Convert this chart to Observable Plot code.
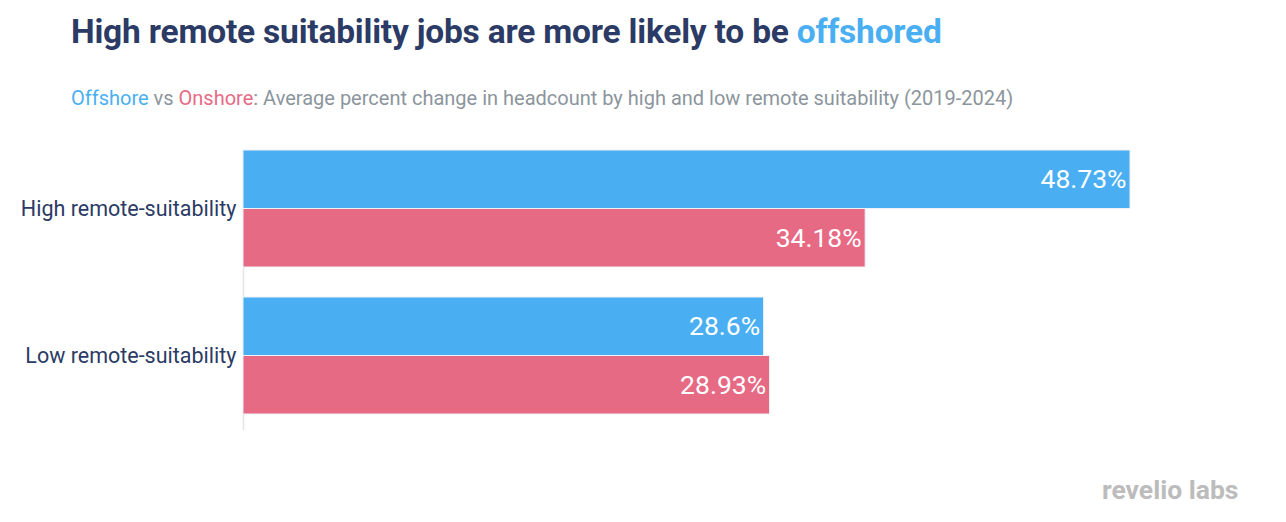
<!DOCTYPE html>
<html>
<head>
<meta charset="utf-8">
<script src="https://cdn.jsdelivr.net/npm/d3@7"></script>
<script src="https://cdn.jsdelivr.net/npm/@observablehq/plot@0.6"></script>
<style>
  body { margin: 0; background: #fff; font-family: Roboto, "Noto Sans", sans-serif; width: 1286px; height: 522px; position: relative; overflow: hidden; }
  #title { position: absolute; left: 71px; top: 12px; font-size: 33.5px; line-height: 40px; font-weight: 700; color: #2b3b65; letter-spacing: -0.2px; }
  #title span { color: #4aaff2; }
  #subtitle { position: absolute; left: 71px; top: 86px; font-size: 20px; line-height: 24px; color: #8c959d; }
  #subtitle .off { color: #4aaff2; }
  #subtitle .on { color: #e76a85; }
  #chart { position: absolute; left: 0; top: 140px; }
  #logo { position: absolute; left: 1102px; top: 474px; font-size: 26.5px; line-height: 32px; font-weight: 700; color: #bcbcbc; letter-spacing: 0px; }
</style>
</head>
<body>
<div id="title">High remote suitability jobs are more likely to be <span>offshored</span></div>
<div id="subtitle"><span class="off">Offshore</span> vs <span class="on">Onshore</span>: Average percent change in headcount by high and low remote suitability (2019-2024)</div>
<div id="chart"></div>
<div id="logo">revelio labs</div>
<script>
const groups = ["High remote-suitability", "Low remote-suitability"];
const series = ["Offshore", "Onshore"];
const offshore = [48.73, 28.6];
const onshore = [34.18, 28.93];
const colors = ["#4aaff2", "#e76a85"];

const data = [];
groups.forEach((g, i) => {
  data.push({group: g, series: "Offshore", value: offshore[i]});
  data.push({group: g, series: "Onshore", value: onshore[i]});
});

const half = 58.5;
const off = data.filter(d => d.series === "Offshore");
const on = data.filter(d => d.series === "Onshore");

const chart = Plot.plot({
  width: 1286,
  height: 300,
  marginTop: 10,
  marginBottom: 26,
  marginLeft: 243,
  marginRight: 156,
  style: {fontFamily: "Roboto, sans-serif", background: "transparent"},
  x: {domain: [0, d3.max(data, d => d.value)], axis: null},
  y: {domain: groups, paddingInner: 30 / 147, paddingOuter: 0, axis: null},
  color: {domain: series, range: colors},
  marks: [
    Plot.ruleX([0], {stroke: "#e4e4ea", strokeWidth: 1.5, insetBottom: -16}),
    Plot.barX(off, {x: "value", y: "group", fill: "series", insetBottom: half, stroke: "#eef2f8", strokeWidth: 1}),
    Plot.barX(on, {x: "value", y: "group", fill: "series", insetTop: half, stroke: "#eef2f8", strokeWidth: 1}),
    Plot.text(off, {x: "value", y: "group", text: d => d.value + "%", dy: -29, dx: -4, textAnchor: "end", fill: "white", fontSize: 26.5}),
    Plot.text(on, {x: "value", y: "group", text: d => d.value + "%", dy: 30, dx: -4, textAnchor: "end", fill: "white", fontSize: 26.5}),
    Plot.axisY({tickSize: 0, tickPadding: 7, fontSize: 21.5, fill: "#2b3b65", label: null})
  ]
});
document.getElementById("chart").appendChild(chart);
</script>
</body>
</html>
